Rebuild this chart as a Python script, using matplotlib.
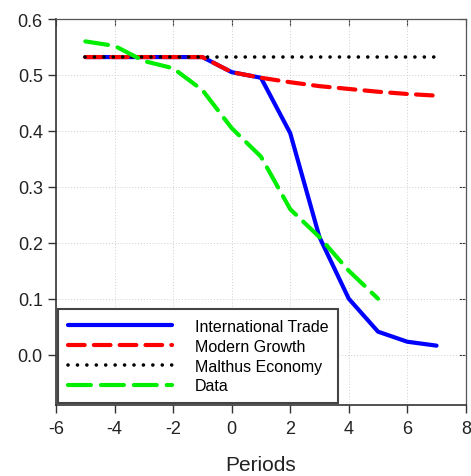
import matplotlib.pyplot as plt

plt.rcParams['font.family'] = ['Liberation Sans', 'DejaVu Sans']
plt.rcParams['axes.unicode_minus'] = False

periods = [-5, -4, -3, -2, -1, 0, 1, 2, 3, 4, 5, 6, 7]
intl_trade = [0.532, 0.532, 0.532, 0.532, 0.532, 0.505, 0.495, 0.396, 0.21, 0.10, 0.041, 0.023, 0.016]
modern_growth = [0.532, 0.532, 0.532, 0.532, 0.532, 0.505, 0.495, 0.487, 0.480, 0.475, 0.470, 0.466, 0.463]
malthus = [0.532] * 13
data_periods = [-5, -4, -3, -2, -1, 0, 1, 2, 3, 4, 5]
data_values = [0.56, 0.552, 0.525, 0.512, 0.473, 0.405, 0.354, 0.26, 0.21, 0.15, 0.10]

fig = plt.figure(figsize=(4.71, 4.77), dpi=100)
ax = fig.add_axes([0.119, 0.149, 0.870, 0.809])

ax.plot(periods, intl_trade, "-", color="#0000ff", lw=3, label="International Trade",
        solid_capstyle="round", solid_joinstyle="round")
ax.plot(periods, modern_growth, color="#ff0000", lw=3, label="Modern Growth",
        dashes=(4, 2.2), dash_capstyle="round")
ax.plot(periods, malthus, color="black", lw=2.6, label="Malthus Economy",
        dashes=(0.01, 2.6), dash_capstyle="round")
ax.plot(data_periods, data_values, color="#00ee00", lw=3, label="Data",
        dashes=(5.5, 2.4), dash_capstyle="round")

ax.set_xlim(-6, 8)
ax.set_ylim(-0.09, 0.6)
ax.set_xticks(range(-6, 9, 2))
ax.set_yticks([0.0, 0.1, 0.2, 0.3, 0.4, 0.5, 0.6])
ax.set_yticklabels(["0.0", "0.1", "0.2", "0.3", "0.4", "0.5", "0.6"])
ax.grid(True, color="#d0d0d0", linestyle=(0, (1, 2)), linewidth=0.7)

ax.tick_params(axis="both", labelsize=13, length=6, width=1, direction="out",
               color="#333333", labelcolor="#222222")
ax.tick_params(axis="x", pad=5)
for side in ["top", "right"]:
    ax.spines[side].set_color("#555555")
for side in ["left", "bottom"]:
    ax.spines[side].set_color("#333333")
    ax.spines[side].set_linewidth(1.2)
ax.secondary_yaxis("right").tick_params(direction="in", length=5, labelright=False, color="#333333")
ax.secondary_xaxis("top").tick_params(direction="in", length=5, labeltop=False, color="#333333")

ax.set_xlabel("Periods", fontsize=15, color="#222222", labelpad=13)

leg = ax.legend(loc="lower left", bbox_to_anchor=(0.005, 0.005), borderaxespad=0, fontsize=11.5,
                handlelength=6.5, handletextpad=1.45, labelspacing=0.3,
                fancybox=False, framealpha=1, borderpad=0.6)
leg.get_frame().set_edgecolor("#444444")
leg.get_frame().set_linewidth(1.5)

fig.savefig("out.png", dpi=100)
